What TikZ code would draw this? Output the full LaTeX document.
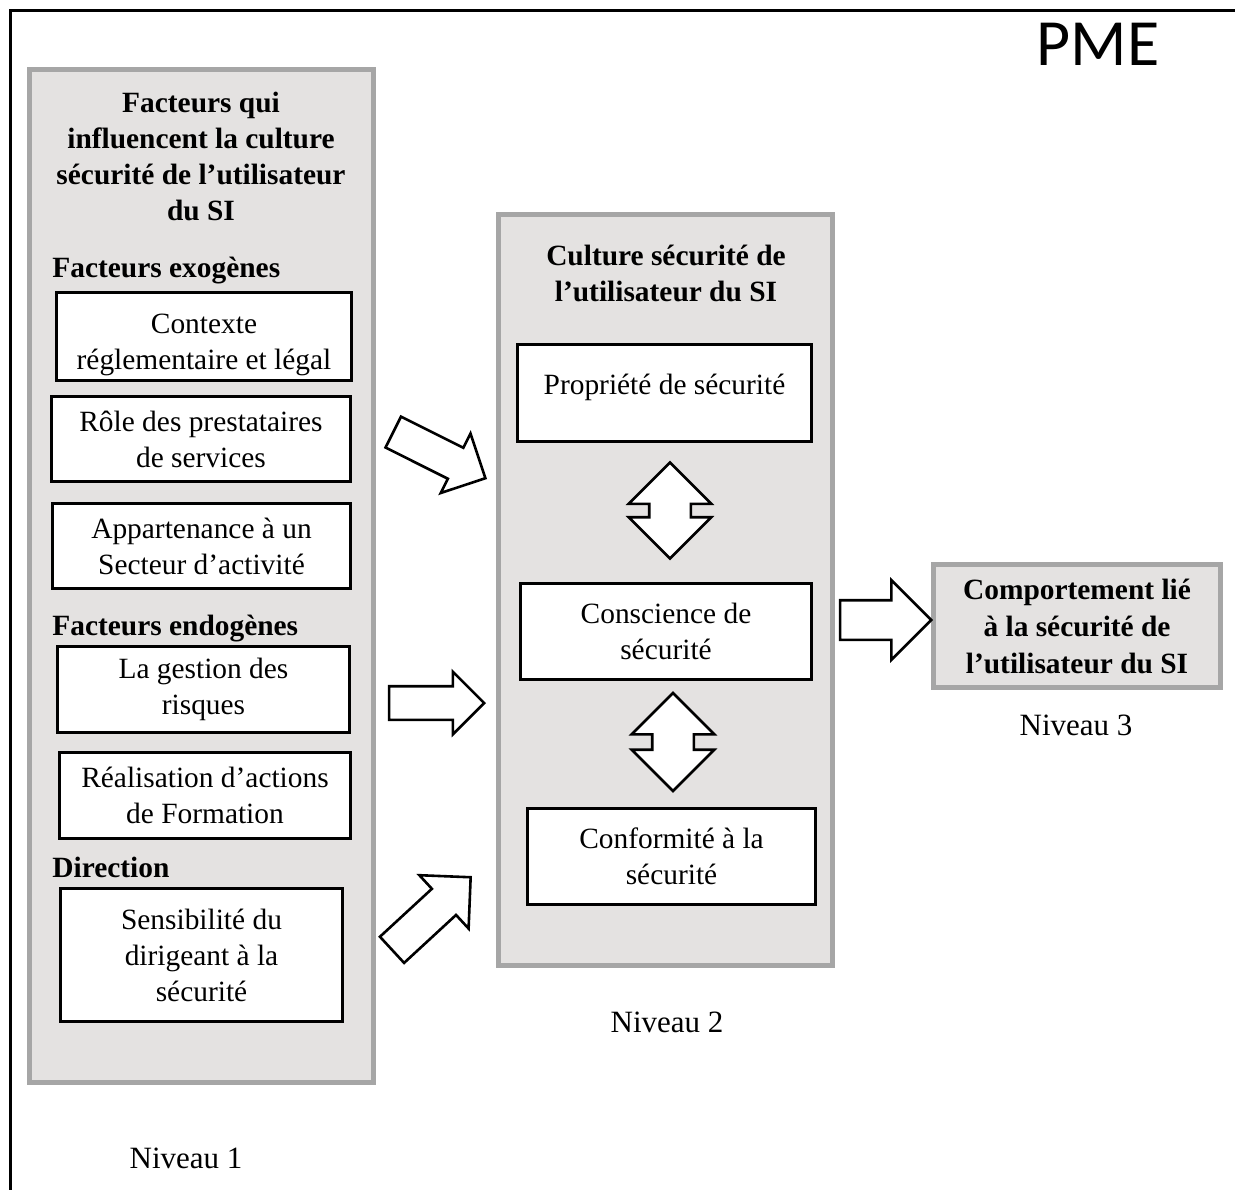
\documentclass[tikz,border=0pt]{standalone}
\usepackage{fontspec}
\setmainfont{Liberation Serif}
\newfontfamily\pmefont{Carlito}
\usepackage{xcolor}
\usetikzlibrary{shapes.arrows}

\definecolor{panelfill}{RGB}{228,226,225}
\definecolor{panelline}{RGB}{166,166,166}

\begin{document}
\begin{tikzpicture}[x=0.5pt, y=-0.5pt,
        panel/.style={draw=panelline, line width=2.5pt, fill=panelfill, inner sep=0pt},
        factbox/.style={draw=black, line width=1.5pt, fill=white, align=center, inner sep=0pt, font=\fontsize{14.7}{18}\selectfont},
        paneltitle/.style={align=center, inner sep=0pt, font=\fontsize{14.7}{18}\selectfont\bfseries},
        heading/.style={anchor=base west, inner sep=0pt, font=\fontsize{14.7}{18}\selectfont\bfseries},
        niveaulabel/.style={inner sep=0pt, font=\fontsize{15.5}{18}\selectfont},
        blockarrow/.style={single arrow, draw=black, line width=1.3pt, fill=white, inner sep=0pt, anchor=tip},
        twoway/.style={double arrow, draw=black, line width=1.3pt, fill=white, inner sep=0pt, rotate=90}]
        \useasboundingbox (0,0) rectangle (1235,1189);
        \draw[line width=1.5pt] (10,1200) -- (10,10) -- (1245,10);
        \node[anchor=base, inner sep=0pt, font=\pmefont\fontsize{33}{36}\selectfont] (pme) at (1098,65) {PME};

        % niveau 1
        \node[panel, minimum width=172pt, minimum height=506.5pt] (facteurs) at (201.5,576) {};
        \node[paneltitle] (facttitle) at (201,156) {Facteurs qui\\influencent la culture\\sécurité de l’utilisateur\\du SI};
        \node[heading] (exo) at (52,277) {Facteurs exogènes};
        \node[factbox, minimum width=147.5pt, minimum height=44pt] (contexte) at (204,336.5) {\rule{0pt}{18pt}Contexte\\réglementaire et légal};
        \node[factbox, minimum width=149.5pt, minimum height=42.5pt] (role) at (201,439) {Rôle des prestataires\\de services};
        \node[factbox, minimum width=149pt, minimum height=42.5pt] (secteur) at (201.5,546) {Appartenance à un\\Secteur d’activité};
        \node[heading] (endo) at (52,635) {Facteurs endogènes};
        \node[factbox, minimum width=146pt, minimum height=43pt] (risques) at (203.5,689.5) {La gestion des\\risques};
        \node[factbox, minimum width=145.5pt, minimum height=43pt] (formation) at (205,795.5) {Réalisation d’actions\\de Formation};
        \node[heading] (direction) at (52,877) {Direction};
        \node[factbox, minimum width=141pt, minimum height=66.5pt] (dirigeant) at (201.5,955) {Sensibilité du\\dirigeant à la\\sécurité};
        \node[niveaulabel] (niv1) at (186,1158) {Niveau 1};

        % niveau 2
        \node[panel, minimum width=167pt, minimum height=375.5pt] (culture) at (665.5,590) {};
        \node[paneltitle] (culttitle) at (666,273) {Culture sécurité de\\l’utilisateur du SI};
        \node[factbox, minimum width=147pt, minimum height=48.5pt] (propriete) at (664.5,393) {Propriété de sécurité\rule[-9pt]{0pt}{9pt}};
        \node[factbox, minimum width=145.5pt, minimum height=48pt] (conscience) at (666,631.5) {Conscience de\\sécurité};
        \node[factbox, minimum width=144pt, minimum height=48pt] (conformite) at (671.5,856.5) {Conformité à la\\sécurité};
        \node[twoway, minimum height=48pt, inner ysep=9.75pt, double arrow head extend=10.25pt] (lienA) at (670,510.5) {};
        \node[twoway, minimum height=49pt, inner ysep=9.75pt, double arrow head extend=10.25pt] (lienB) at (673,742) {};
        \node[niveaulabel] (niv2) at (667,1022) {Niveau 2};

        % niveau 3
        \node[panel, minimum width=143.5pt, minimum height=61.5pt, align=center, font=\fontsize{14.7}{18.5}\selectfont\bfseries] (comport) at (1077,626) {Comportement lié\\à la sécurité de\\l’utilisateur du SI};
        \node[niveaulabel] (niv3) at (1076,725) {Niveau 3};

        % fleches
        \node[blockarrow, rotate=-26.6, minimum height=51.5pt, inner ysep=8pt, single arrow head extend=8pt] (flecheA) at (487,479) {};
        \node[blockarrow, minimum height=47.5pt, inner ysep=7.75pt, single arrow head extend=7.25pt] (flecheB) at (486,703) {};
        \node[blockarrow, rotate=42.7, minimum height=53.5pt, inner ysep=8.25pt, single arrow head extend=9.25pt] (flecheC) at (472,876) {};
        \node[blockarrow, minimum height=45.5pt, inner ysep=9.25pt, single arrow head extend=10pt] (flecheD) at (933,620) {};
\end{tikzpicture}
\end{document}
